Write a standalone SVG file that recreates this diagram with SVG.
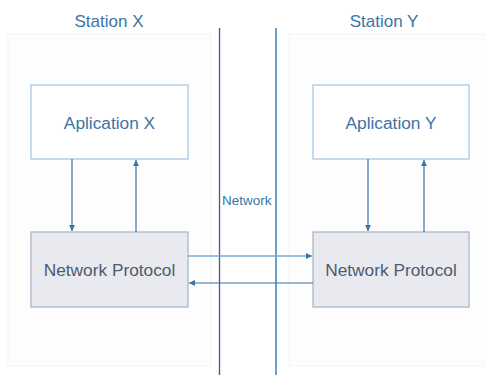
<svg xmlns="http://www.w3.org/2000/svg" width="486" height="375" viewBox="0 0 486 375">
<style>
.title{font-family:"Liberation Sans",Arial,sans-serif;font-size:17px;fill:#3a75a6;text-anchor:middle}
.app rect{fill:#ffffff;stroke:#a8c8e6;stroke-width:1.3}
.app text{font-family:"Liberation Sans",Arial,sans-serif;font-size:17.3px;fill:#3a75a6;text-anchor:middle}
.proto rect{fill:#e8eaef;stroke:#aab8cc;stroke-width:1.3}
.proto text{font-family:"Liberation Sans",Arial,sans-serif;font-size:17.3px;fill:#4d5b6e;text-anchor:middle}
.station{fill:#fdfdfd;stroke:#f4f4f4;stroke-width:1}
.conn{stroke:#3a75a6;stroke-width:1.2;fill:none}
.connl{stroke:#7aaad4;stroke-width:1.5;fill:none}
</style>
<defs>
<marker id="ah" markerWidth="8" markerHeight="8" refX="6" refY="3.5" orient="auto" markerUnits="userSpaceOnUse">
<path d="M0,0.5 L6,3.5 L0,6.5 Z" fill="#3a75a6"/>
</marker>
</defs>
<rect width="486" height="375" fill="#ffffff"/>
<g id="stationX">
<rect class="station" x="8" y="34" width="203" height="332"/>
<text class="title" x="109" y="27">Station X</text>
</g>
<g id="stationY">
<rect class="station" x="289" y="34" width="200" height="332"/>
<text class="title" x="384" y="27">Station Y</text>
</g>
<g id="network">
<line x1="219.5" y1="28" x2="219.5" y2="375" stroke="#2f5f8c" stroke-width="1.3"/>
<line x1="276" y1="28" x2="276" y2="375" stroke="#6d9ec9" stroke-width="2"/>
<text x="222" y="205" font-family="Liberation Sans, Arial, sans-serif" font-size="13.5" fill="#3a75a6">Network</text>
</g>
<g id="appX" class="app">
<rect x="31" y="85" width="157" height="74"/>
<text x="109.5" y="129">Aplication X</text>
</g>
<g id="appY" class="app">
<rect x="313" y="85" width="156" height="74"/>
<text x="391" y="129">Aplication Y</text>
</g>
<g id="protoX" class="proto">
<rect x="31" y="232" width="157" height="75"/>
<text x="109.5" y="276">Network Protocol</text>
</g>
<g id="protoY" class="proto">
<rect x="313" y="232" width="156" height="75"/>
<text x="391" y="276">Network Protocol</text>
</g>
<g id="connectors">
<line class="conn" x1="72" y1="159" x2="72" y2="231" marker-end="url(#ah)"/>
<line class="conn" x1="136" y1="232" x2="136" y2="160" marker-end="url(#ah)"/>
<line class="conn" x1="368" y1="159" x2="368" y2="231" marker-end="url(#ah)"/>
<line class="conn" x1="424" y1="232" x2="424" y2="160" marker-end="url(#ah)"/>
<line class="connl" x1="188" y1="256" x2="312" y2="256" marker-end="url(#ah)"/>
<line class="conn" x1="313" y1="283" x2="189" y2="283" marker-end="url(#ah)"/>
</g>
</svg>
